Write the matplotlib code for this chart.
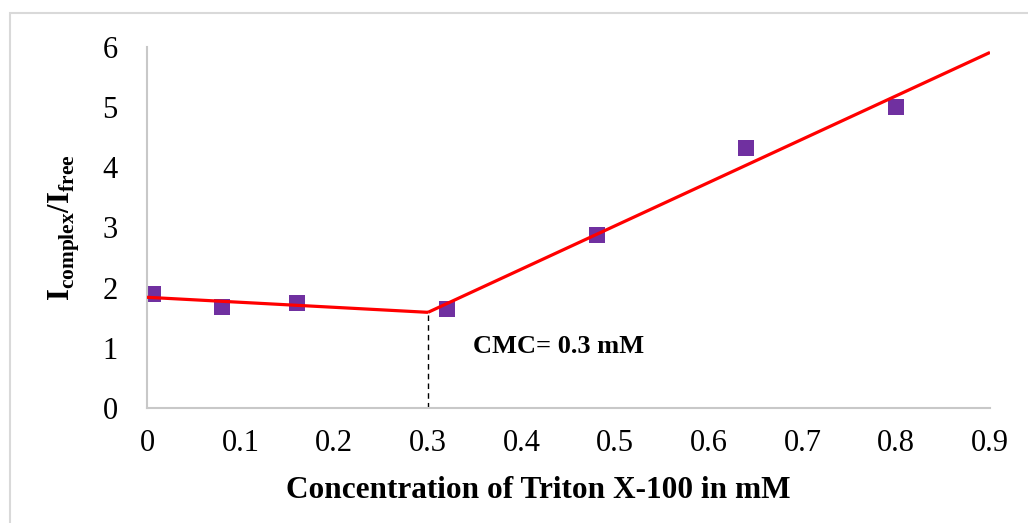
import numpy as np
import matplotlib
matplotlib.use("Agg")
import matplotlib.pyplot as plt
from matplotlib.patches import Rectangle

# data
conc = [0.006, 0.08, 0.16, 0.32, 0.48, 0.64, 0.80]
ratio = [1.90, 1.68, 1.75, 1.65, 2.88, 4.32, 5.01]
# two linear fits meeting at the CMC
fit1_x = [0.0, 0.3]
fit1_y = [1.84, 1.59]
fit2_x = [0.3, 0.9]
fit2_y = [1.59, 5.91]
cmc = 0.3
xticks = [0, 0.1, 0.2, 0.3, 0.4, 0.5, 0.6, 0.7, 0.8, 0.9]
xticklabels = ["0", "0.1", "0.2", "0.3", "0.4", "0.5", "0.6", "0.7", "0.8", "0.9"]
yticks = [0, 1, 2, 3, 4, 5, 6]

plt.rcParams["font.family"] = "Liberation Serif"
plt.rcParams["mathtext.fontset"] = "custom"
plt.rcParams["mathtext.rm"] = "Liberation Serif"
plt.rcParams["mathtext.bf"] = "Liberation Serif:bold"

fig = plt.figure(figsize=(10.28, 5.23), dpi=100)
ax = fig.add_axes([147/1028, 1-408/523, (990-147)/1028, (408-47)/523])

# outer chart frame
fig.patches.append(Rectangle((10/1028, -0.1), 1.2, 1.1 - 13/523, transform=fig.transFigure,
                             fill=False, edgecolor="#d9d9d9", linewidth=1.5))

ax.scatter(conc, ratio, marker="s", s=16**2*0.52, color="#7030A0", zorder=2, linewidths=0)
ax.plot(fit1_x, fit1_y, color="#FF0000", lw=2.3, zorder=3, solid_capstyle="butt")
ax.plot(fit2_x, fit2_y, color="#FF0000", lw=2.3, zorder=3, solid_capstyle="butt")
ax.plot([cmc, cmc], [0, fit1_y[1]], color="black", lw=1.0, ls=(0, (4, 3)), zorder=1)
ax.text(0.348, 0.91, "CMC= 0.3 mM", fontsize=19, fontweight="bold", ha="left", va="baseline")

ax.set_xlim(0, 0.9)
ax.set_ylim(0, 6)
ax.set_xticks(xticks)
ax.set_xticklabels(xticklabels)
ax.set_yticks(yticks)
ax.tick_params(axis="both", length=0, labelsize=22)
ax.tick_params(axis="x", pad=15)
ax.tick_params(axis="y", pad=21)
for s in ["top", "right"]:
    ax.spines[s].set_visible(False)
for s in ["left", "bottom"]:
    ax.spines[s].set_color("#c8c8c8")
    ax.spines[s].set_linewidth(1.5)

fig.text(538/1028, (523-498)/523, "Concentration of Triton X-100 in mM", fontsize=22.5,
         fontweight="bold", ha="center", va="baseline")
fig.text(64/1028, 0.565, r"$\mathbf{I}_{\mathbf{complex}}\mathbf{/I}_{\mathbf{free}}$", fontsize=22,
         rotation=90, ha="center", va="center")

fig.savefig("out.png", dpi=100)
